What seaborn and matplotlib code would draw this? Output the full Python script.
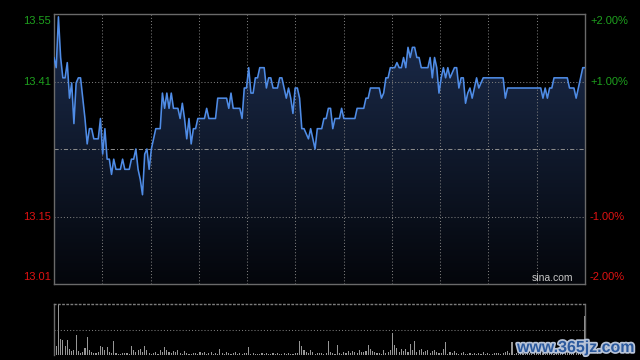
import numpy as np
import pandas as pd
import matplotlib.pyplot as plt
import matplotlib.patheffects as pe
from matplotlib.colors import LinearSegmentedColormap
import seaborn as sns

# previous close and intraday minute data (241 minutes)
prev_close = 13.28

price = [
    13.46, 13.44, 13.54, 13.46, 13.42, 13.42, 13.45, 13.38, 13.41, 13.33,
    13.41, 13.42, 13.42, 13.38, 13.34, 13.29, 13.32, 13.32, 13.30, 13.30,
    13.30, 13.34, 13.27, 13.32, 13.26, 13.26, 13.23, 13.26, 13.24, 13.24,
    13.24, 13.26, 13.24, 13.24, 13.24, 13.26, 13.26, 13.28, 13.24, 13.22,
    13.19, 13.27, 13.28, 13.24, 13.28, 13.30, 13.32, 13.32, 13.32, 13.39,
    13.36, 13.39, 13.36, 13.39, 13.36, 13.36, 13.36, 13.34, 13.37, 13.34,
    13.30, 13.34, 13.29, 13.32, 13.32, 13.34, 13.34, 13.34, 13.34, 13.36,
    13.34, 13.34, 13.34, 13.34, 13.38, 13.38, 13.38, 13.38, 13.38, 13.36,
    13.39, 13.36, 13.36, 13.36, 13.36, 13.34, 13.40, 13.40, 13.44, 13.39,
    13.39, 13.42, 13.42, 13.44, 13.44, 13.44, 13.40, 13.42, 13.42, 13.40,
    13.40, 13.40, 13.42, 13.42, 13.40, 13.38, 13.40, 13.38, 13.35, 13.40,
    13.40, 13.38, 13.32, 13.32, 13.31, 13.30, 13.32, 13.30, 13.28, 13.32,
    13.32, 13.32, 13.34, 13.34, 13.36, 13.36, 13.32, 13.34, 13.34, 13.34,
    13.36, 13.34, 13.34, 13.34, 13.34, 13.34, 13.34, 13.36, 13.36, 13.36,
    13.36, 13.38, 13.38, 13.40, 13.40, 13.40, 13.40, 13.40, 13.38, 13.39,
    13.42, 13.42, 13.44, 13.44, 13.44, 13.45, 13.44, 13.44, 13.46, 13.44,
    13.48, 13.46, 13.48, 13.48, 13.46, 13.46, 13.44, 13.44, 13.44, 13.44,
    13.46, 13.42, 13.46, 13.44, 13.39, 13.42, 13.44, 13.42, 13.44, 13.42,
    13.43, 13.44, 13.44, 13.40, 13.42, 13.42, 13.37, 13.39, 13.40, 13.38,
    13.40, 13.42, 13.40, 13.41, 13.42, 13.42, 13.42, 13.42, 13.42, 13.42,
    13.42, 13.42, 13.42, 13.42, 13.38, 13.40, 13.40, 13.40, 13.40, 13.40,
    13.40, 13.40, 13.40, 13.40, 13.40, 13.40, 13.40, 13.40, 13.40, 13.40,
    13.40, 13.38, 13.40, 13.38, 13.40, 13.40, 13.42, 13.42, 13.42, 13.42,
    13.42, 13.42, 13.42, 13.40, 13.40, 13.40, 13.38, 13.40, 13.42, 13.44,
    13.44,
]

volume = [
    57, 18, 100, 31, 30, 18, 30, 11, 7, 10,
    40, 8, 4, 6, 13, 35, 9, 6, 4, 3,
    5, 18, 15, 9, 15, 5, 3, 27, 3, 2,
    2, 4, 3, 4, 2, 18, 9, 5, 9, 11,
    6, 18, 9, 3, 2, 3, 6, 2, 9, 5,
    15, 9, 6, 3, 8, 5, 9, 4, 2, 7,
    3, 2, 2, 3, 4, 2, 6, 3, 5, 2,
    3, 6, 2, 3, 2, 11, 3, 2, 5, 3,
    2, 3, 5, 2, 3, 2, 4, 3, 15, 2,
    3, 2, 2, 2, 3, 2, 3, 2, 2, 3,
    2, 3, 2, 2, 4, 2, 3, 2, 2, 3,
    4, 27, 18, 10, 6, 4, 10, 5, 2, 3,
    4, 3, 2, 3, 28, 5, 3, 2, 20, 4,
    2, 5, 3, 7, 4, 8, 6, 4, 9, 5,
    5, 8, 20, 11, 8, 5, 3, 4, 2, 10,
    4, 6, 10, 43, 20, 14, 6, 11, 8, 12,
    6, 22, 10, 28, 6, 10, 11, 5, 7, 9,
    4, 8, 10, 5, 3, 4, 12, 25, 2, 5,
    3, 8, 4, 2, 3, 5, 2, 2, 3, 2,
    4, 2, 3, 2, 5, 2, 3, 2, 2, 4,
    3, 4, 2, 3, 6, 8, 3, 25, 2, 3,
    2, 4, 3, 2, 5, 3, 2, 4, 3, 2,
    5, 3, 2, 6, 3, 4, 2, 8, 3, 5,
    3, 4, 6, 3, 2, 5, 4, 3, 6, 4,
    78,
]

price_labels = ['13.55', '13.41', '13.15', '13.01']
pct_labels = ['+2.00%', '+1.00%', '-1.00%', '-2.00%']
pct_levels = [0.02, 0.01, -0.01, -0.02]

sns.set_style('dark', {'axes.facecolor': 'black', 'figure.facecolor': 'black'})
plt.rcParams['font.family'] = ['Liberation Sans', 'DejaVu Sans']

df = pd.DataFrame({'minute': np.arange(len(price)), 'price': price, 'volume': volume})
n = len(price) - 1
lo, hi = prev_close * 0.98, prev_close * 1.02

fig = plt.figure(figsize=(6.4, 3.6), dpi=100)
fig.patch.set_facecolor('black')
ax = fig.add_axes([54 / 640, 1 - 284 / 360, 531 / 640, 270 / 360])
vax = fig.add_axes([54 / 640, 5 / 360, 531 / 640, 51 / 360])

dot = (0, (1, 2))
grid_c = '#7c7c7c'
border_c = '#6a6a6a'

# gradient area under the price line
fill = ax.fill_between(df['minute'], df['price'], lo, color='none', lw=0)
cmap = LinearSegmentedColormap.from_list('area', ['#04060b', '#1c2d4e'])
grad = np.linspace(1, 0, 256).reshape(-1, 1)
im = ax.imshow(grad, cmap=cmap, aspect='auto', extent=[0, n, lo, hi], origin='upper', zorder=1)
im.set_clip_path(fill.get_paths()[0], transform=ax.transData)

sns.lineplot(data=df, x='minute', y='price', ax=ax, color='#4f8ce6', lw=1.15, zorder=4)

ax.set_xlim(0, n)
ax.set_ylim(lo, hi)
ax.set_xlabel('')
ax.set_ylabel('')
ax.set_xticks([])
ax.set_yticks([])
ax.grid(False)
for xv in np.linspace(0, n, 12)[1:-1]:
    ax.axvline(xv, color=grid_c, ls=dot, lw=0.75, zorder=2)
for lv in [0.01, -0.01]:
    ax.axhline(prev_close * (1 + lv), color=grid_c, ls=dot, lw=0.75, zorder=2)
ax.axhline(prev_close, color='#8a8a8a', ls=(0, (4, 2, 1, 2)), lw=0.75, zorder=2)
ax.tick_params(labelleft=False, labelbottom=False, length=0)
for s in ax.spines.values():
    s.set_visible(True)
    s.set_color(border_c)
    s.set_linewidth(1)

# price labels on the left, percent labels on the right
for lab, pl, lv in zip(price_labels, pct_labels, pct_levels):
    col = '#1ea01e' if lv > 0 else '#e01212'
    yv = prev_close * (1 + lv)
    va = 'top' if lv == 0.02 else ('bottom' if lv == -0.02 else 'center')
    off = -1.5 if va == 'top' else (2 if va == 'bottom' else 0)
    ax.annotate(lab, (0, yv), xycoords=('axes fraction', 'data'), xytext=(-3, off),
                textcoords='offset pixels', ha='right', va=va, color=col, fontsize=8)
    ax.annotate(pl, (1, yv), xycoords=('axes fraction', 'data'), xytext=(5, off),
                textcoords='offset pixels', ha='left', va=va, color=col, fontsize=8)

ax.text(0.977, 0.004, 'sina.com', transform=ax.transAxes, ha='right', va='bottom',
        color='#c8c8c8', fontsize=7.5)

# volume panel
vmax = max(volume)
sns.barplot(data=df, x='minute', y='volume', ax=vax, color='#969696', saturation=1,
            width=0.5, native_scale=True, errorbar=None, linewidth=0)
for p in vax.patches:
    p.set_antialiased(False)
vax.set_xlim(0, n)
vax.set_ylim(0, vmax * 1.01)
vax.set_xlabel('')
vax.set_ylabel('')
vax.set_xticks([])
vax.set_yticks([])
vax.grid(False)
vax.axhline(vmax * 0.505, color=grid_c, ls=dot, lw=0.75)
for side in ['left', 'right', 'top']:
    vax.spines[side].set_visible(True)
    vax.spines[side].set_color(border_c)
    vax.spines[side].set_linewidth(1)
vax.spines['top'].set_linestyle(dot)
vax.spines['top'].set_color(grid_c)
vax.spines['bottom'].set_visible(False)

wm = fig.text(517 / 640, 1 - 352 / 360, 'www.365jz.com', ha='left', va='baseline',
              color='#2c5a9e', fontsize=11.5, fontweight='bold')
wm.set_path_effects([pe.withStroke(linewidth=2.5, foreground='#b8c4d8')])

fig.savefig('out.png', dpi=100, facecolor='black')
